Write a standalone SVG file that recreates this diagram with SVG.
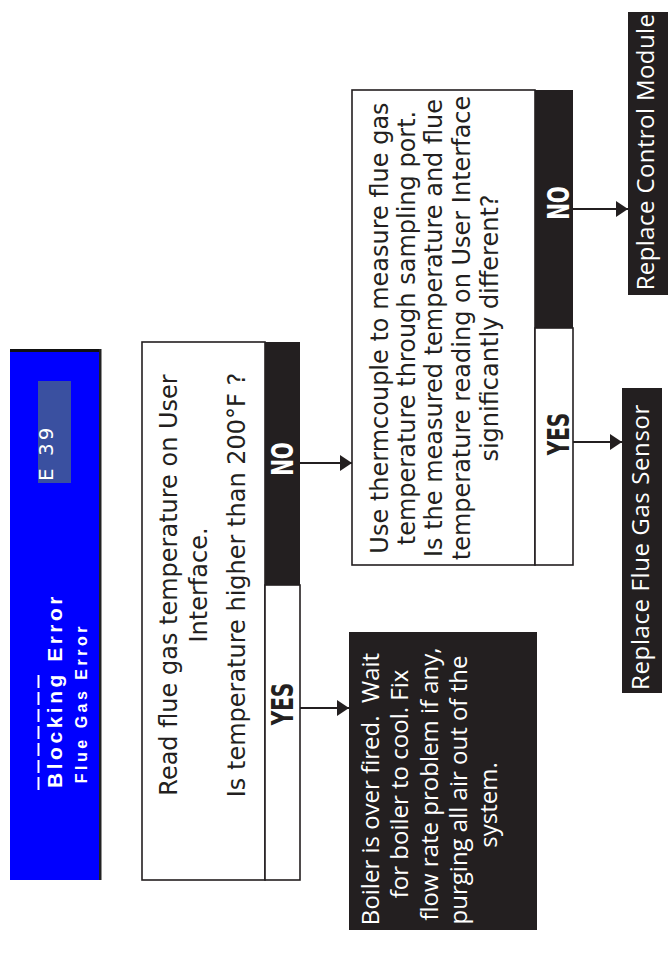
<svg xmlns="http://www.w3.org/2000/svg" width="668" height="958" viewBox="0 0 668 958">
<style>
.box{fill:#fff;stroke:#231f20;stroke-width:1.6}
.dark{fill:#231f20}
.t{font-family:"DejaVu Sans",Verdana,sans-serif;font-size:24px;fill:#231f20;text-anchor:middle}
.w{font-family:"Open Sans","Noto Sans",sans-serif;font-size:24px;fill:#fff;text-anchor:middle}
.lbl{font-family:"DejaVu Sans",Verdana,sans-serif;font-weight:bold;font-size:20px;text-anchor:middle}
.hdr{font-family:"Liberation Sans",Arial,sans-serif;font-weight:bold;fill:#fff;text-anchor:end;letter-spacing:3.5px}
.conn line{stroke:#231f20;stroke-width:1.8;marker-end:url(#ah)}
</style>
<defs>
<marker id="ah" markerUnits="userSpaceOnUse" viewBox="0 0 12 16" refX="12" refY="8" markerWidth="12" markerHeight="16" orient="auto"><path d="M0,0L12,8L0,16z" fill="#231f20"/></marker>
</defs>

<g id="error-header">
<rect x="10" y="351" width="89" height="529" fill="#0000ff"/>
<rect x="10" y="349" width="91" height="3" fill="#111"/>
<rect x="99" y="349" width="2.5" height="531" fill="#222"/>
<rect x="38" y="381" width="33" height="102" fill="#3a50a0"/>
<text transform="translate(53,481) rotate(-90)" font-family="DejaVu Sans,Verdana,sans-serif" font-size="20" fill="#fff" letter-spacing="3">E 39</text>
<line x1="38.5" y1="675" x2="38.5" y2="790" stroke="#fff" stroke-width="2" stroke-dasharray="13 4"/>
<text class="hdr" font-size="21" transform="translate(62,593) rotate(-90)">Blocking Error</text>
<text class="hdr" font-size="16" transform="translate(87,623) rotate(-90)">Flue Gas Error</text>
</g>

<g id="q1">
<rect class="box" x="142" y="342" width="123" height="538"/>
<rect class="dark" x="265" y="342" width="35" height="243"/>
<rect class="box" x="265" y="585" width="35" height="295"/>
<text class="t" font-size="24.3" transform="translate(177,585) rotate(-90)">Read flue gas temperature on User</text>
<text class="t" font-size="24.3" transform="translate(207,585) rotate(-90)">Interface.</text>
<text class="t" font-size="24.3" transform="translate(245,585) rotate(-90)">Is temperature higher than 200°F ?</text>
<text class="lbl" fill="#fff" transform="translate(293,459) rotate(-90) scale(1,1.55)">NO</text>
<text class="lbl" fill="#231f20" transform="translate(293,704) rotate(-90) scale(1,1.55)">YES</text>
</g>

<g id="overfired">
<rect class="dark" x="349" y="632" width="188" height="298"/>
<text class="w" transform="translate(378.5,789) rotate(-90)" xml:space="preserve">Boiler is over fired.  Wait</text>
<text class="w" transform="translate(408,784) rotate(-90)">for boiler to cool. Fix</text>
<text class="w" transform="translate(437.5,784) rotate(-90)">flow rate problem if any,</text>
<text class="w" transform="translate(467,790) rotate(-90)">purging all air out of the</text>
<text class="w" transform="translate(496.5,805) rotate(-90)">system.</text>
</g>

<g id="q2">
<rect class="box" x="352" y="90" width="183" height="475"/>
<rect class="dark" x="535" y="90" width="38" height="238"/>
<rect class="box" x="535" y="328" width="38" height="237"/>
<text class="t" transform="translate(388,328) rotate(-90)">Use thermcouple to measure flue gas</text>
<text class="t" transform="translate(415,328) rotate(-90)">temperature through sampling port.</text>
<text class="t" transform="translate(442,328) rotate(-90)">Is the measured temperature and flue</text>
<text class="t" transform="translate(470,328) rotate(-90)">temperature reading on User Interface</text>
<text class="t" transform="translate(498,328) rotate(-90)">significantly different?</text>
<text class="lbl" fill="#fff" transform="translate(569,203) rotate(-90) scale(1,1.55)">NO</text>
<text class="lbl" fill="#231f20" transform="translate(569,434) rotate(-90) scale(1,1.55)">YES</text>
</g>

<g id="replace-control-module">
<rect class="dark" x="628" y="12" width="40" height="283"/>
<text class="w" letter-spacing="0.4" transform="translate(654,152) rotate(-90)">Replace Control Module</text>
</g>

<g id="replace-flue-gas-sensor">
<rect class="dark" x="622" y="388" width="40" height="305"/>
<text class="w" letter-spacing="0.6" transform="translate(649,547) rotate(-90)">Replace Flue Gas Sensor</text>
</g>

<g id="connectors" class="conn">
<line x1="300" y1="463" x2="352" y2="463"/>
<line x1="300" y1="708" x2="349" y2="708"/>
<line x1="573" y1="209" x2="628" y2="209"/>
<line x1="573" y1="442" x2="622" y2="442"/>
</g>
</svg>
